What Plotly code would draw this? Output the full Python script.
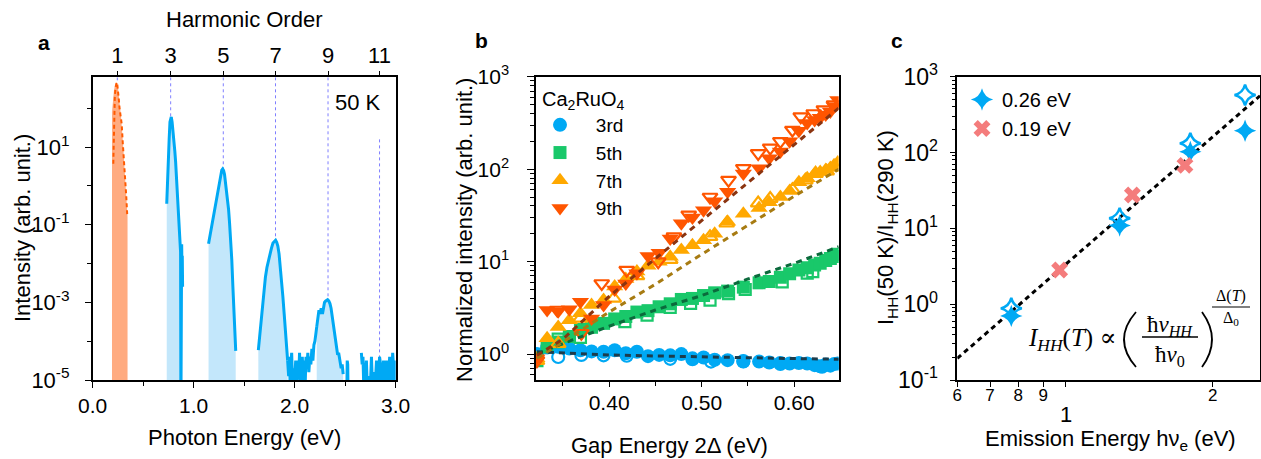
import plotly.graph_objects as go
import math

W, H = 1261, 459
FONT = "Liberation Sans, Arial, sans-serif"
SERIF = "Liberation Serif, DejaVu Serif, serif"

BLUE = "#00a9f4"
BLUE_FILL = "#c3e7fb"
ORANGE = "#ff5a00"
ORANGE_FILL = "#ffab80"
GREEN = "#19c86a"
AMBER = "#ffa800"
RED = "#ff5500"
PINK = "#f47c7c"

# ---------------- Panel a: HHG spectrum (log10 intensity) ----------------
HARM_ORDERS = [1, 3, 5, 7, 9, 11]
HARM_E = [0.244, 0.772, 1.293, 1.810, 2.330, 2.840]
HARM_TOP_LOG = [2.8, 2.8, 2.8, 2.8, 2.8, 1.2]
HARM_PEAK_LOG = [2.68, 1.79, 0.44, -1.40, -2.93, -5.0]

FUND_E = [0.204, 0.208, 0.213, 0.219, 0.225, 0.231, 0.237, 0.243, 0.250, 0.258, 0.266, 0.275,
          0.287, 0.298, 0.310, 0.320, 0.332, 0.343]
FUND_LOG = [0.57, 1.3, 1.9, 2.3, 2.5, 2.62, 2.67, 2.63, 2.5, 2.25, 2.0, 1.8,
            1.6, 1.1, 0.7, 0.3, -0.25, -0.8]
FUND_FILL_E = [0.191, 0.200, 0.210, 0.220, 0.230, 0.238, 0.250, 0.262, 0.280, 0.300, 0.320, 0.345]
FUND_FILL_LOG = [1.9, 2.2, 2.45, 2.6, 2.66, 2.68, 2.55, 2.3, 1.8, 1.1, 0.3, -0.8]

H3_E = [0.733, 0.740, 0.749, 0.757, 0.765, 0.772, 0.778, 0.786, 0.795, 0.805, 0.813, 0.821,
        0.830, 0.839, 0.848, 0.856, 0.864, 0.867, 0.870, 0.873, 0.875, 0.878, 0.881, 0.884,
        0.887, 0.890]
H3_LOG = [-0.46, 0.2, 0.66, 1.2, 1.65, 1.78, 1.78, 1.65, 1.45, 1.15, 0.9, 0.62,
          0.2, -0.2, -0.63, -1.0, -1.4, -1.3, -1.7, -5.5, -1.6, -2.0, -1.5, -2.2,
          -1.8, -2.6]

H5_E = [1.147, 1.160, 1.178, 1.195, 1.212, 1.227, 1.242, 1.255, 1.267, 1.278, 1.287, 1.296,
        1.305, 1.315, 1.325, 1.335, 1.345, 1.355, 1.366, 1.377, 1.388, 1.399, 1.408, 1.416]
H5_LOG = [-1.49, -1.3, -1.06, -0.85, -0.6, -0.37, -0.1, 0.12, 0.31, 0.41, 0.44, 0.4,
          0.3, 0.1, -0.15, -0.38, -0.6, -0.95, -1.4, -1.9, -2.6, -3.3, -3.8, -4.25]

H7_E = [1.640, 1.648, 1.656, 1.670, 1.690, 1.710, 1.725, 1.740, 1.755, 1.770, 1.785, 1.800,
        1.811, 1.822, 1.833, 1.845, 1.857, 1.870, 1.883, 1.896, 1.908, 1.920, 1.930]
H7_LOG = [-4.23, -4.0, -3.72, -3.3, -2.77, -2.35, -2.1, -1.92, -1.75, -1.6, -1.47, -1.41,
          -1.40, -1.45, -1.55, -1.75, -2.05, -2.4, -2.85, -3.3, -3.75, -4.15, -4.5]

H9_E = [2.218, 2.230, 2.240, 2.250, 2.262, 2.275, 2.285, 2.295, 2.305, 2.315, 2.326, 2.337,
        2.349, 2.360, 2.372, 2.383, 2.395, 2.405, 2.415, 2.425, 2.435, 2.448, 2.460, 2.470,
        2.480]
H9_LOG = [-3.63, -3.35, -3.2, -3.3, -3.15, -3.3, -3.1, -3.0, -2.97, -2.94, -2.93, -2.96,
          -3.03, -3.15, -3.35, -3.55, -3.8, -4.0, -4.15, -4.35, -4.3, -4.5, -4.7, -4.6,
          -4.85]

NOISE1_E = [1.930, 1.940, 1.948, 1.955, 1.962, 1.970, 1.978, 1.985, 1.993, 2.000, 2.010, 2.020,
            2.030, 2.040, 2.048, 2.060, 2.075, 2.082, 2.090, 2.098, 2.105, 2.112, 2.120, 2.130,
            2.140, 2.150, 2.160, 2.170, 2.180, 2.190, 2.200, 2.210, 2.218]
NOISE1_LOG = [-4.5, -4.9, -4.4, -5.2, -4.6, -4.3, -5.1, -4.7, -5.3, -4.8, -4.5, -5.3,
              -4.5, -4.9, -4.3, -5.6, -4.4, -4.8, -5.2, -4.5, -5.0, -4.4, -4.7, -4.3,
              -4.8, -4.4, -4.6, -4.2, -4.5, -4.1, -4.0, -3.8, -3.63]

NOISE2_E = [2.515, 2.520, 2.525, 2.530]
NOISE2_LOG = [-5.6, -4.5, -4.6, -5.6]

NOISE3_E = [2.660, 2.668, 2.676, 2.684, 2.692, 2.700, 2.710, 2.720, 2.730, 2.740, 2.750, 2.760,
            2.770, 2.780, 2.790, 2.800, 2.810, 2.820, 2.830, 2.840, 2.850, 2.860, 2.870, 2.880,
            2.890, 2.900, 2.910, 2.920, 2.930, 2.940, 2.950, 2.960, 2.970, 2.980, 2.990, 3.000]
NOISE3_LOG = [-4.3, -4.6, -4.4, -5.2, -4.9, -4.8, -4.5, -5.3, -5.0, -4.9, -5.1, -4.4,
              -5.2, -4.9, -4.8, -5.0, -4.5, -4.9, -5.3, -4.4, -4.6, -5.1, -4.8, -4.5,
              -4.9, -5.3, -4.5, -4.9, -5.0, -4.4, -4.8, -5.2, -4.3, -4.6, -5.1, -4.5]

A_YTICKS = [1e-5, 1e-3, 1e-1, 10]
A_YTICKTEXT = ["10<sup>-5</sup>", "10<sup>-3</sup>", "10<sup>-1</sup>", "10<sup>1</sup>"]

# ---------------- Panel b: normalized intensity vs gap energy ----------------
GAP_F = [0.322, 0.333, 0.345, 0.357, 0.369, 0.381, 0.394, 0.406, 0.418, 0.430, 0.442, 0.454,
         0.466, 0.478, 0.490, 0.502, 0.514, 0.528, 0.545, 0.562, 0.573, 0.585, 0.595, 0.605,
         0.614, 0.622, 0.628, 0.634, 0.639, 0.643, 0.647]
B3_F = [1.00, 1.18, 1.20, 1.15, 1.10, 1.07, 1.06, 1.10, 1.02, 1.06, 0.95, 0.98,
        0.97, 1.00, 0.90, 0.92, 0.87, 0.86, 0.83, 0.83, 0.81, 0.78, 0.79, 0.80,
        0.79, 0.76, 0.74, 0.77, 0.75, 0.78, 0.79]
B5_F = [0.90, 1.20, 1.35, 1.55, 1.85, 1.95, 2.15, 2.40, 2.55, 2.85, 2.95, 3.25,
        3.50, 3.90, 4.00, 4.30, 4.60, 4.80, 5.30, 5.90, 6.10, 6.80, 7.40, 8.10,
        8.60, 9.20, 9.60, 10.3, 10.8, 11.4, 12.0]
B7_F = [0.90, 1.48, 1.97, 2.33, 2.76, 3.39, 3.84, 5.40, 6.50, 7.80, 9.00, 10.0,
        11.3, 13.4, 15.0, 17.0, 20.0, 27.0, 33.0, 38.0, 44.0, 50.0, 58.0, 72.0,
        80.0, 88.0, 93.0, 98.0, 103, 110, 118]
B9_F = [0.90, 3.00, 2.90, 3.05, 3.68, 2.43, 3.40, 5.00, 5.80, 7.50, 11.5, 12.5,
        17.8, 26.0, 30.0, 36.0, 45.0, 57.0, 90.0, 102, 131, 155, 200, 260,
        315, 340, 360, 390, 420, 480, 560]

B3_XO = [0.322, 0.345, 0.370, 0.394, 0.419, 0.466, 0.490, 0.510, 0.545, 0.585, 0.630]
B3_O = [0.95, 0.93, 0.98, 0.97, 0.96, 0.89, 0.88, 0.83, 0.84, 0.80, 0.73]
B5_XO = [0.322, 0.345, 0.369, 0.417, 0.441, 0.466, 0.488, 0.509, 0.529, 0.547, 0.587, 0.614, 0.620]
B5_O = [0.85, 1.45, 1.52, 2.24, 2.64, 3.20, 3.54, 3.84, 4.50, 5.00, 6.05, 7.50, 7.80]
B7_XO = [0.322, 0.345, 0.369, 0.405, 0.430, 0.466, 0.509, 0.527, 0.561, 0.574, 0.598, 0.612, 0.623, 0.635]
B7_O = [0.85, 1.30, 2.43, 4.00, 7.00, 10.5, 18.6, 26.0, 43.0, 48.0, 60.0, 76.0, 90.0, 95.0]
B9_XO = [0.322, 0.344, 0.370, 0.392, 0.419, 0.453, 0.470, 0.486, 0.509, 0.529, 0.545, 0.561,
         0.574, 0.585, 0.598, 0.607, 0.621, 0.632, 0.643]
B9_O = [0.85, 3.00, 1.68, 5.80, 8.10, 10.0, 18.6, 32.0, 50.0, 76.0, 102, 148,
        170, 200, 265, 370, 400, 440, 500]

FIT_X = [0.322, 0.35, 0.40, 0.45, 0.50, 0.55, 0.60, 0.648]
FIT3 = [1.06, 1.03, 0.98, 0.955, 0.93, 0.91, 0.895, 0.88]
FIT5 = [1.0, 1.3, 2.0, 3.0, 4.3, 6.5, 9.6, 14.5]
FIT7 = [0.90, 1.35, 2.85, 5.7, 12.0, 25.0, 51.0, 100.0]
FIT9 = [0.97, 1.45, 4.2, 10.8, 27.9, 71.6, 184, 457]

B_YTICKS = [1, 10, 100, 1000]
B_YTICKTEXT = ["10<sup>0</sup>", "10<sup>1</sup>", "10<sup>2</sup>", "10<sup>3</sup>"]

# ---------------- Panel c: enhancement ratio vs emission energy ----------------
C26_X = [0.774, 1.29, 1.80, 2.33]
C26_F = [0.70, 10.9, 102, 194]
C26_O = [0.88, 13.6, 132, 574]
C19_X = [0.972, 1.37, 1.755]
C19_Y = [2.83, 27.6, 67.7]
FITC_X = [0.6, 2.5]
FITC_Y = [0.193, 560]

C_YTICKS = [0.1, 1, 10, 100, 1000]
C_YTICKTEXT = ["10<sup>-1</sup>", "10<sup>0</sup>", "10<sup>1</sup>", "10<sup>2</sup>", "10<sup>3</sup>"]
C_XTICKS = [0.6, 0.7, 0.8, 0.9, 1, 2]
C_XTICKTEXT = ["6", "7", "8", "9", " ", "2"]


def P(v):
    return [10 ** a for a in v]


def px(x):
    return x / W


def py(y):
    return 1 - y / H


NB = "\u00a0"
fig = go.Figure()

# ---- panel a traces ----
vx, vy = [], []
for e, t, b in zip(HARM_E, HARM_TOP_LOG, HARM_PEAK_LOG):
    vx += [e, e, None]
    vy += [10 ** t, 10 ** b, None]
fig.add_trace(go.Scatter(x=vx, y=vy, mode="lines", line=dict(color="#7f7fff", width=1, dash="dot"),
                         xaxis="x", yaxis="y", showlegend=False, hoverinfo="skip"))

def add_fill(E, L, color):
    fig.add_trace(go.Scatter(x=E + [E[-1], E[0]], y=P(L) + [1e-6, 1e-6], mode="lines",
                             fill="toself", fillcolor=color, line=dict(width=0),
                             xaxis="x", yaxis="y", showlegend=False, hoverinfo="skip"))

add_fill(FUND_FILL_E, FUND_FILL_LOG, ORANGE_FILL)
for E, L in [(H3_E, H3_LOG), (H5_E, H5_LOG), (H7_E, H7_LOG), (H9_E, H9_LOG)]:
    add_fill(E, L, BLUE_FILL)

fig.add_trace(go.Scatter(x=FUND_E, y=P(FUND_LOG), mode="lines",
                         line=dict(color=ORANGE, width=2, dash="4px,3px"),
                         xaxis="x", yaxis="y", showlegend=False))
for E, L in [(H3_E, H3_LOG), (H5_E, H5_LOG), (H7_E, H7_LOG), (H9_E, H9_LOG),
             (NOISE1_E, NOISE1_LOG), (NOISE2_E, NOISE2_LOG), (NOISE3_E, NOISE3_LOG)]:
    fig.add_trace(go.Scatter(x=E, y=P(L), mode="lines", line=dict(color=BLUE, width=3),
                             xaxis="x", yaxis="y", showlegend=False))
# top harmonic-order axis carrier
fig.add_trace(go.Scatter(x=HARM_E, y=[None] * len(HARM_E), mode="markers",
                         xaxis="x4", yaxis="y", showlegend=False, hoverinfo="skip"))

# ---- panel b traces ----
series = [
    ("3rd", GAP_F, B3_F, B3_XO, B3_O, BLUE, "circle", 14),
    ("5th", GAP_F, B5_F, B5_XO, B5_O, GREEN, "square", 13),
    ("7th", GAP_F, B7_F, B7_XO, B7_O, AMBER, "triangle-up", 15),
    ("9th", GAP_F, B9_F, B9_XO, B9_O, RED, "triangle-down", 15),
]
for name, xf, yf, xo, yo, col, sym, sz in series:
    fig.add_trace(go.Scatter(x=xo, y=yo, mode="markers",
                             marker=dict(symbol=sym + "-open", size=sz - 2, color=col, line=dict(width=2.2, color=col)),
                             xaxis="x2", yaxis="y2", showlegend=False))
    fig.add_trace(go.Scatter(x=xf, y=yf, mode="markers", name=NB * 3 + name,
                             marker=dict(symbol=sym, size=sz, color=col, line=dict(width=0)),
                             xaxis="x2", yaxis="y2", legend="legend"))
for fy, col in [(FIT3, "#1c3c4c"), (FIT5, "#0b6a3c"), (FIT7, "#a77b12"), (FIT9, "#8b3410")]:
    fig.add_trace(go.Scatter(x=FIT_X, y=fy, mode="lines", line=dict(color=col, width=3, dash="6px,5px"),
                             xaxis="x2", yaxis="y2", showlegend=False))

# ---- panel c traces ----
fig.add_trace(go.Scatter(x=FITC_X, y=FITC_Y, mode="lines", line=dict(color="black", width=3, dash="5px,4px"),
                         xaxis="x3", yaxis="y3", showlegend=False))
fig.add_trace(go.Scatter(x=C26_X, y=C26_O, mode="markers",
                         marker=dict(symbol="star-diamond-open", size=15, color=BLUE, line=dict(width=2.5, color=BLUE)),
                         xaxis="x3", yaxis="y3", showlegend=False))
fig.add_trace(go.Scatter(x=C26_X, y=C26_F, mode="markers", name="0.26 eV",
                         marker=dict(symbol="star-diamond", size=16, color=BLUE, line=dict(width=0)),
                         xaxis="x3", yaxis="y3", legend="legend2"))
fig.add_trace(go.Scatter(x=C19_X, y=C19_Y, mode="markers", name="0.19 eV",
                         marker=dict(symbol="x", size=15, color=PINK, line=dict(width=0)),
                         xaxis="x3", yaxis="y3", legend="legend2"))

axis_common = dict(showline=True, linecolor="black", linewidth=1.5, mirror=True, ticks="outside",
                   tickcolor="black", tickwidth=1.2, showgrid=False, zeroline=False, automargin=False,
                   tickfont=dict(family=FONT, size=21, color="black"))

dec = lambda lo, hi: [k * 10 ** d for d in range(lo, hi) for k in range(2, 10)]

layout = dict(
    width=W, height=H, margin=dict(l=0, r=0, t=0, b=0),
    paper_bgcolor="white", plot_bgcolor="white",
    font=dict(family=FONT, color="black"),
    xaxis=dict(axis_common, domain=[px(92.7), px(395.7)], range=[0, 3], anchor="y",
               tickmode="array", tickvals=[0, 1, 2, 3], ticktext=["0.0", "1.0", "2.0", "3.0"], ticklen=6,
               minor=dict(tickmode="array", tickvals=[0.5, 1.5, 2.5], ticklen=4, ticks="outside", tickcolor="black")),
    xaxis4=dict(overlaying="x", side="top", anchor="y", range=[0, 3], showgrid=False, zeroline=False,
                showline=False, ticks="outside", ticklen=5, tickcolor="black", tickwidth=1.2, automargin=False,
                tickmode="array", tickvals=HARM_E, ticktext=[str(n) for n in HARM_ORDERS],
                tickfont=dict(family=FONT, size=22, color="black")),
    yaxis=dict(axis_common, domain=[py(380), py(77.3)], type="log", range=[-5, 2.8], anchor="x",
               tickmode="array", tickvals=A_YTICKS, ticktext=A_YTICKTEXT, ticklen=6, ticklabelstandoff=11,
               tickfont=dict(family=FONT, size=22, color="black"),
               minor=dict(tickmode="array", tickvals=[1e-4, 1e-2, 1, 100], ticklen=4, ticks="outside", tickcolor="black")),
    xaxis2=dict(axis_common, domain=[px(536), px(838.7)], range=[0.321, 0.648], anchor="y2",
                tickmode="array", tickvals=[0.4, 0.5, 0.6], ticktext=["0.40", "0.50", "0.60"], ticklen=5,
                ticklabelstandoff=-2,
                minor=dict(tickmode="array", tickvals=[0.35, 0.45, 0.55], ticklen=4, ticks="outside", tickcolor="black")),
    yaxis2=dict(axis_common, domain=[py(380), py(76.7)], type="log", range=[-0.28, 3], anchor="x2",
                tickmode="array", tickvals=B_YTICKS, ticktext=B_YTICKTEXT, ticklen=7, ticklabelstandoff=14,
                tickfont=dict(family=FONT, size=21, color="black"),
                minor=dict(tickmode="array", tickvals=[0.6, 0.7, 0.8, 0.9] + dec(0, 3), ticklen=4, ticks="outside", tickcolor="black")),
    xaxis3=dict(axis_common, domain=[px(957.3), px(1260)], type="log", range=[math.log10(0.6), math.log10(2.5)], anchor="y3",
                tickmode="array", tickvals=C_XTICKS, ticktext=C_XTICKTEXT, ticklen=5, ticklabelstandoff=-6,
                tickfont=dict(family=FONT, size=17, color="black")),
    yaxis3=dict(axis_common, domain=[py(380), py(76.7)], type="log", range=[-1, 3], anchor="x3",
                tickmode="array", tickvals=C_YTICKS, ticktext=C_YTICKTEXT, ticklen=6, ticklabelstandoff=7,
                tickfont=dict(family=FONT, size=23, color="black"),
                minor=dict(tickmode="array", tickvals=dec(-1, 3), ticklen=4, ticks="outside", tickcolor="black")),
    legend=dict(x=px(540), y=py(80), xanchor="left", yanchor="top", bgcolor="rgba(0,0,0,0)",
                font=dict(family=FONT, size=19, color="black"), tracegroupgap=0, itemwidth=30,
                title=dict(text="Ca<sub>2</sub>RuO<sub>4</sub>", font=dict(family=FONT, size=20, color="black"))),
    legend2=dict(x=px(962), y=py(80), xanchor="left", yanchor="top", bgcolor="rgba(0,0,0,0)",
                 font=dict(family=FONT, size=20, color="black"), itemwidth=30, tracegroupgap=0),
)
fig.update_layout(**layout)

ann = []
def A(text, x, y, size, **kw):
    d = dict(text=text, x=px(x), y=py(y), xref="paper", yref="paper", showarrow=False,
             font=dict(family=kw.pop("family", FONT), size=size, color="black"),
             xanchor=kw.pop("xanchor", "center"), yanchor=kw.pop("yanchor", "middle"))
    d.update(kw)
    ann.append(d)

A("<b>a</b>", 44, 42, 21)
A("<b>b</b>", 482, 41, 21)
A("<b>c</b>", 897, 41, 21)
A("Harmonic Order", 244, 19, 22)
A("Photon Energy (eV)", 244, 437, 22)
A("Intensity (arb. unit.)", 22, 228, 22, textangle=-90)
A("50 K", 358, 102, 22)
A("Gap Energy 2Δ (eV)", 669, 445, 22)
A("Normalized intensity (arb. unit.)", 465, 230, 22, textangle=-90)
A("Emission Energy hν<sub>e</sub> (eV)", 1110, 440, 22)
A("I<sub>HH</sub>(50 K)/I<sub>HH</sub>(290 K)", 887, 228, 22, textangle=-90)
A("1", 1066, 414, 22)
# formula
A("<i>I<sub>HH</sub></i>(<i>T</i>) ∝", 1118, 339, 25, family=SERIF, xanchor="right")
A("ħ<i>ν<sub>HH</sub></i>", 1170, 326, 23, family=SERIF)
A("ħ<i>ν</i><sub>0</sub>", 1170, 356, 23, family=SERIF)
A("Δ(<i>T</i>)", 1231, 296, 16, family=SERIF)
A("Δ<sub>0</sub>", 1231, 318, 16, family=SERIF)

shapes = []
def L(x0, y0, x1, y1, w):
    shapes.append(dict(type="line", xref="paper", yref="paper", x0=px(x0), y0=py(y0), x1=px(x1), y1=py(y1),
                       line=dict(color="black", width=w)))
L(1142, 337, 1198, 337, 1.5)
L(1212, 307, 1250, 307, 1.2)
def paren(xe, xc, y0, y1):
    path = f"M {px(xe)},{py(y0)} Q {px(xc)},{py((y0 + y1) / 2)} {px(xe)},{py(y1)}"
    shapes.append(dict(type="path", xref="paper", yref="paper", path=path, line=dict(color="black", width=1.8)))
paren(1136, 1112, 312, 367)
paren(1202, 1222, 312, 367)

fig.update_layout(annotations=ann, shapes=shapes)
fig.write_html("out.html", config={"displayModeBar": False},
               post_script="document.body.style.margin='0';document.body.style.padding='0';document.body.style.overflow='hidden';")
